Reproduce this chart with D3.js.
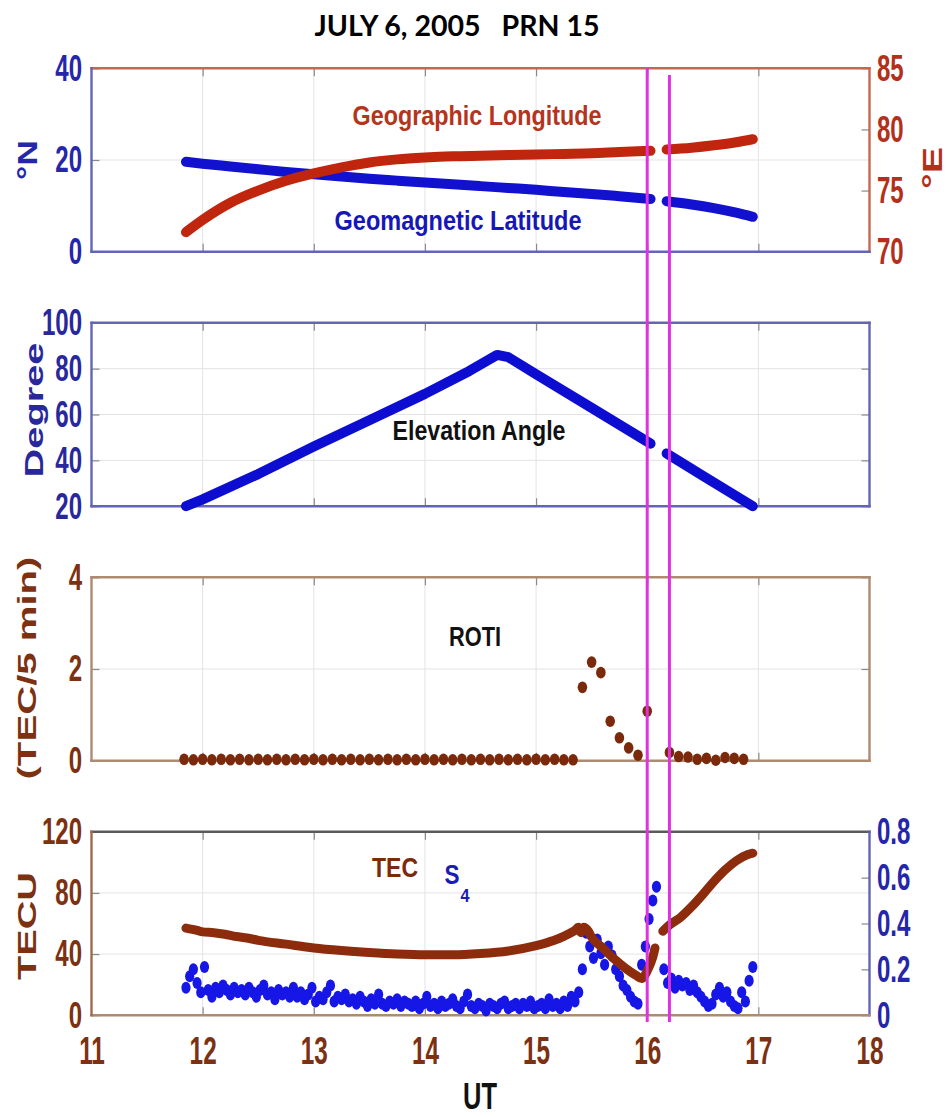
<!DOCTYPE html>
<html>
<head>
<meta charset="utf-8">
<script src="https://cdn.jsdelivr.net/npm/d3@7"></script>
<style>
  html, body { margin: 0; padding: 0; background: #fff; }
  svg { display: block; }
</style>
</head>
<body>
<svg id="chart" width="949" height="1117"></svg>
<script>
// ---------------- data ----------------
const utTicks = [11, 12, 13, 14, 15, 16, 17, 18];
const utGrid = [12, 13, 14, 15, 16, 17];
const eventUT = [16.0, 16.2];

// satellite track (pierce point) : UT hours, null marks the data gap
const trackUT = [11.85, 12.0, 12.25, 12.5, 12.75, 13.0, 13.25, 13.5, 13.75, 14.0, 14.25, 14.5,
                 14.75, 15.0, 15.25, 15.5, 15.75, 16.03, 16.1, 16.175, 16.4, 16.6, 16.8, 16.95];
const geomagLat = [19.6, 19.2, 18.6, 18.0, 17.4, 16.9, 16.4, 15.9, 15.5, 15.1, 14.7, 14.3,
                   13.9, 13.5, 13.0, 12.6, 12.1, 11.5, null, 11.0, 10.3, 9.5, 8.5, 7.6];
const geogLon = [71.6, 72.6, 74.0, 75.0, 75.8, 76.4, 76.9, 77.3, 77.55, 77.7, 77.8, 77.85,
                 77.9, 77.95, 78.0, 78.05, 78.15, 78.25, null, 78.35, 78.5, 78.7, 78.95, 79.2];

const elevUT = [11.85, 12.0, 12.5, 13.0, 13.5, 14.0, 14.4, 14.65, 14.75, 15.0, 15.5, 16.03, 16.1, 16.175, 16.5, 16.95];
const elevDeg = [20, 23, 34, 46, 57.5, 69, 79, 86, 85, 77.6, 62.9, 47.3, null, 43, 33.3, 20];

const rotiUT = [11.833, 11.917, 12.0, 12.083, 12.167, 12.25, 12.333, 12.417, 12.5, 12.583, 12.667,
                12.75, 12.833, 12.917, 13.0, 13.083, 13.167, 13.25, 13.333, 13.417, 13.5, 13.583,
                13.667, 13.75, 13.833, 13.917, 14.0, 14.083, 14.167, 14.25, 14.333, 14.417, 14.5,
                14.583, 14.667, 14.75, 14.833, 14.917, 15.0, 15.083, 15.167, 15.25, 15.333,
                15.417, 15.5, 15.583, 15.667, 15.75, 15.833, 15.917, 16.0,
                16.2, 16.283, 16.367, 16.45, 16.533, 16.617, 16.7, 16.783, 16.867];
const rotiVal = [0.03, 0.02, 0.03, 0.02, 0.03, 0.02, 0.03, 0.02, 0.03, 0.02, 0.03,
                 0.02, 0.03, 0.02, 0.03, 0.02, 0.03, 0.02, 0.03, 0.02, 0.03, 0.02,
                 0.03, 0.02, 0.03, 0.02, 0.03, 0.02, 0.03, 0.02, 0.03, 0.02, 0.03,
                 0.02, 0.03, 0.02, 0.03, 0.02, 0.03, 0.02, 0.03, 0.02, 0.02,
                 1.6, 2.15, 1.92, 0.86, 0.5, 0.28, 0.12, 1.08,
                 0.18, 0.09, 0.08, 0.03, 0.05, 0.01, 0.07, 0.05, 0.03];

const tecUT = [11.85, 11.95, 12.0, 12.1, 12.2, 12.3, 12.4, 12.5, 12.75, 13.0, 13.25, 13.5, 13.75,
               14.0, 14.25, 14.5, 14.75, 15.0, 15.1, 15.2, 15.3, 15.35, 15.38, 15.405, 15.43, 15.47,
               15.5, 15.6, 15.7, 15.8, 15.9, 15.95, 16.0, 16.05, 16.07, 16.1, 16.14, 16.2, 16.3,
               16.4, 16.5, 16.6, 16.7, 16.8, 16.9, 16.95];
const tecVal = [57, 55.5, 54.5, 54, 53, 51.5, 50.5, 49, 46.5, 44, 42.3, 41, 40,
                39.5, 39.5, 40.3, 42, 45.5, 47.5, 50, 53.5, 55.5, 57.5, 54, 57.5, 55,
                51, 44, 37, 31, 26, 24, 29, 38, 44, null, 55, 59, 64,
                71, 79, 87.5, 95, 101, 105, 106];

// S4 index, 2-minute samples starting 11:51 UT
const s4Start = 11.85;
const s4StepMin = 2;
const s4Val = [
  0.12, 0.17, 0.2, 0.14, 0.1, 0.21, 0.11, 0.08, 0.12, 0.1, 0.13, 0.11, 0.09, 0.12, 0.1,
  0.11, 0.09, 0.12, 0.1, 0.08, 0.11, 0.13, 0.09, 0.1, 0.07, 0.11, 0.09, 0.1, 0.08, 0.12,
  0.08, 0.1, 0.07, 0.09, 0.12, 0.06, 0.08, 0.07, 0.1, 0.13, 0.06, 0.08, 0.07, 0.09, 0.06,
  0.07, 0.05, 0.08, 0.06, 0.04, 0.07, 0.05, 0.09, 0.05, 0.04, 0.06, 0.05, 0.07, 0.04, 0.06,
  0.05, 0.04, 0.06, 0.03, 0.05, 0.08, 0.04, 0.05, 0.03, 0.06, 0.04, 0.05, 0.07, 0.04, 0.03,
  0.06, 0.09, 0.04, 0.03, 0.05, 0.04, 0.02, 0.05, 0.04, 0.03, 0.05, 0.06, 0.03, 0.04, 0.05,
  0.03, 0.05, 0.04, 0.06, 0.03, 0.04, 0.05, 0.03, 0.07, 0.04, 0.05, 0.03, 0.06, 0.04, 0.08,
  0.06, 0.1, 0.2, 0.36, 0.3, 0.25, 0.33, 0.27, 0.22, 0.3, 0.26, 0.2, 0.17, 0.13, 0.11,
  0.08, 0.06, 0.05, 0.22, 0.3, 0.42, 0.5, 0.56, null, 0.2, 0.14, 0.16, 0.12, 0.15, 0.13,
  0.14, 0.11, 0.13, 0.1, 0.08, 0.06, 0.04, 0.05, 0.09, 0.12, 0.08, 0.1, 0.06, 0.04, 0.03,
  0.1, 0.06, 0.15, 0.21
];

const latTicks = [0, 20, 40];
const lonTicks = [70, 75, 80, 85];
const elevTicks = [20, 40, 60, 80, 100];
const rotiTicks = [0, 2, 4];
const tecTicks = [0, 40, 80, 120];
const s4Ticks = [0, 0.2, 0.4, 0.6, 0.8];

// ---------------- layout ----------------
const FONT = "'Liberation Sans', Arial, Helvetica, sans-serif";
const svg = d3.select('#chart');
const X0 = 91.5, X1 = 869.5;
const panelTop = [68.3, 322.8, 577.3, 831.8];
const PH = 183.4;
const TICK = 8;
const SX = 0.65; // narrow glyph factor

const x = d3.scaleLinear().domain([11, 18]).range([X0, X1]);

const C = {
  blueFrame: '#6464b4', redFrame: '#c8674f', brownFrame: '#ad8a72', greyFrame: '#5a5a5a',
  blueTxt: '#2626aa', redTxt: '#b3301b', navyTxt: '#28289c', brownTxt: '#7b3112',
  grid: '#e3e3e3'
};

function addText(parent, str, px, py, o) {
  const t = parent.append('text')
    .attr('transform', `translate(${px},${py})` + (o.rotate ? ` rotate(${o.rotate})` : ''))
    .attr('text-anchor', o.anchor || 'middle')
    .attr('font-family', o.family || FONT)
    .attr('font-weight', o.weight || 'bold')
    .attr('font-size', o.size)
    .attr('fill', o.fill || '#000');
  if (o.len) t.attr('textLength', o.len).attr('lengthAdjust', 'spacingAndGlyphs');
  t.text(str);
  return t;
}

function styleTicks(g, color, size) {
  g.select('.domain').remove();
  g.selectAll('.tick line').attr('stroke', '#8a8a8a').attr('stroke-width', 1.2);
  g.selectAll('.tick text')
    .attr('fill', color)
    .attr('font-family', FONT)
    .attr('font-weight', 'bold')
    .attr('font-size', size);
}

function panel(i, cfg) {
  const top = panelTop[i], bot = top + PH;
  const g = svg.append('g');
  const yL = d3.scaleLinear().domain(cfg.left.domain).range([bot, top]);
  const yR = cfg.right ? d3.scaleLinear().domain(cfg.right.domain).range([bot, top]) : yL;

  // grid
  g.append('g').selectAll('line.v').data(utGrid).join('line')
    .attr('x1', d => x(d)).attr('x2', d => x(d)).attr('y1', top).attr('y2', bot)
    .attr('stroke', C.grid).attr('stroke-width', 1);
  g.append('g').selectAll('line.h').data(cfg.gridY).join('line')
    .attr('x1', X0).attr('x2', X1).attr('y1', d => yL(d)).attr('y2', d => yL(d))
    .attr('stroke', C.grid).attr('stroke-width', 1);

  // x ticks (top and bottom, inward)
  const xt = g.append('g').attr('transform', `translate(0,${top})`)
    .call(d3.axisTop(x).tickValues(utGrid).tickSize(-TICK).tickFormat(''));
  styleTicks(xt, '#000', 10);
  const xb = g.append('g').attr('transform', `translate(0,${bot})`)
    .call(d3.axisBottom(x).tickValues(cfg.xLabels ? utTicks : utGrid).tickSize(-TICK)
      .tickPadding(22).tickFormat(cfg.xLabels ? d3.format('d') : ''));
  styleTicks(xb, C.brownTxt, 38);
  if (cfg.xLabels) {
    xb.selectAll('.tick text').attr('transform', `scale(${0.64},1)`);
    xb.selectAll('.tick line').filter(d => d === 11 || d === 18).remove();
  }

  // left axis
  const la = g.append('g').attr('transform', `translate(${X0},0)`)
    .call(d3.axisLeft(yL).tickValues(cfg.left.ticks).tickSize(-TICK).tickPadding(9.5 / SX)
      .tickFormat(cfg.left.fmt || d3.format('d')));
  styleTicks(la, cfg.left.color, 37);
  la.selectAll('.tick text').attr('transform', `scale(${SX},1)`);

  // right axis
  const rTicks = cfg.right ? cfg.right.ticks : cfg.left.ticks;
  const ra = g.append('g').attr('transform', `translate(${X1},0)`)
    .call(d3.axisRight(yR).tickValues(rTicks).tickSize(-TICK).tickPadding(7.5 / SX)
      .tickFormat(cfg.right ? (cfg.right.fmt || d3.format('d')) : ''));
  styleTicks(ra, cfg.right ? cfg.right.color : '#000', 37);
  ra.selectAll('.tick text').attr('transform', `scale(${SX},1)`);

  // frame, each side coloured like its owning axis
  const f = cfg.frame;
  const sides = [
    [X0, top, X1, top, f.top], [X1, top, X1, bot, f.right],
    [X0, bot, X1, bot, f.bottom], [X0, top, X0, bot, f.left]
  ];
  g.append('g').selectAll('line').data(sides).join('line')
    .attr('x1', d => d[0]).attr('y1', d => d[1]).attr('x2', d => d[2]).attr('y2', d => d[3])
    .attr('stroke', d => d[4]).attr('stroke-width', 2.4).attr('stroke-linecap', 'square');

  return { g, yL, yR, top, bot };
}

function pairs(xs, ys) { return xs.map((d, k) => [d, ys[k]]); }

// ---------------- title ----------------
addText(svg, 'JULY 6, 2005   PRN 15', 457, 36, { size: 28, family: "Lato, 'Open Sans', sans-serif", len: 285 })
  .attr('xml:space', 'preserve').style('white-space', 'pre');

// ---------------- panel 1 : latitude / longitude ----------------
const p1 = panel(0, {
  left: { domain: [0, 40], ticks: latTicks, color: C.blueTxt },
  right: { domain: [70, 85], ticks: lonTicks, color: C.redTxt },
  gridY: [20],
  frame: { top: C.redFrame, right: C.redFrame, bottom: C.blueFrame, left: C.blueFrame }
});
const lineL1 = d3.line().defined(d => d[1] != null).x(d => x(d[0])).y(d => p1.yL(d[1])).curve(d3.curveMonotoneX);
const lineR1 = d3.line().defined(d => d[1] != null).x(d => x(d[0])).y(d => p1.yR(d[1])).curve(d3.curveMonotoneX);
p1.g.append('path').attr('d', lineL1(pairs(trackUT, geomagLat)))
  .attr('fill', 'none').attr('stroke', '#1111cf').attr('stroke-width', 10).attr('stroke-linecap', 'round');
p1.g.append('path').attr('d', lineR1(pairs(trackUT, geogLon)))
  .attr('fill', 'none').attr('stroke', '#c0250d').attr('stroke-width', 10).attr('stroke-linecap', 'round');
addText(p1.g, 'Geographic Longitude', 477, 125, { size: 27, len: 249, fill: '#b4341c' });
addText(p1.g, 'Geomagnetic Latitude', 458, 230, { size: 27, len: 247, fill: '#1717b8' });
addText(p1.g, '°N', 27, 160, { size: 28, rotate: -90, fill: C.blueTxt, len: 40 }).attr('dy', '0.35em');
addText(p1.g, '°E', 932, 168, { size: 28, rotate: -90, fill: C.redTxt, len: 42 }).attr('dy', '0.35em');

// ---------------- panel 2 : elevation ----------------
const p2 = panel(1, {
  left: { domain: [20, 100], ticks: elevTicks, color: C.navyTxt },
  gridY: [40, 60, 80],
  frame: { top: C.blueFrame, right: C.blueFrame, bottom: C.blueFrame, left: C.blueFrame }
});
const line2 = d3.line().defined(d => d[1] != null).x(d => x(d[0])).y(d => p2.yL(d[1]));
p2.g.append('path').attr('d', line2(pairs(elevUT, elevDeg)))
  .attr('fill', 'none').attr('stroke', '#0d0dd2').attr('stroke-width', 10)
  .attr('stroke-linecap', 'round').attr('stroke-linejoin', 'round');
addText(p2.g, 'Elevation Angle', 479, 440, { size: 27, len: 173, fill: '#111' });
addText(p2.g, 'Degree', 34, 410, { size: 25, rotate: -90, fill: C.navyTxt, len: 135 }).attr('dy', '0.35em');

// ---------------- panel 3 : ROTI ----------------
const p3 = panel(2, {
  left: { domain: [0, 4], ticks: rotiTicks, color: C.brownTxt },
  gridY: [2],
  frame: { top: C.brownFrame, right: C.brownFrame, bottom: C.brownFrame, left: C.brownFrame }
});
p3.g.append('g').selectAll('ellipse').data(pairs(rotiUT, rotiVal)).join('ellipse')
  .attr('cx', d => x(d[0])).attr('cy', d => p3.yL(d[1])).attr('rx', 4.8).attr('ry', 5.8)
  .attr('fill', '#7a2a0b');
addText(p3.g, 'ROTI', 475, 646, { size: 27, len: 52, fill: '#111' });
addText(p3.g, '(TEC/5 min)', 27, 668, { size: 26, rotate: -90, fill: C.brownTxt, len: 223 }).attr('dy', '0.35em');

// ---------------- panel 4 : TEC and S4 ----------------
const p4 = panel(3, {
  left: { domain: [0, 120], ticks: tecTicks, color: C.brownTxt },
  right: { domain: [0, 0.8], ticks: s4Ticks, color: C.blueTxt, fmt: d => d === 0 ? '0' : d3.format('.1f')(d) },
  gridY: [40, 80],
  xLabels: true,
  frame: { top: C.greyFrame, right: C.blueFrame, bottom: C.brownFrame, left: '#9c6a4e' }
});
const s4Data = s4Val.map((v, k) => [s4Start + k * s4StepMin / 60, v]).filter(d => d[1] != null);
p4.g.append('g').selectAll('ellipse').data(s4Data).join('ellipse')
  .attr('cx', d => x(d[0])).attr('cy', d => p4.yR(d[1])).attr('rx', 4.6).attr('ry', 6)
  .attr('fill', '#1616e6');
const line4 = d3.line().defined(d => d[1] != null).x(d => x(d[0])).y(d => p4.yL(d[1])).curve(d3.curveMonotoneX);
p4.g.append('path').attr('d', line4(pairs(tecUT, tecVal)))
  .attr('fill', 'none').attr('stroke', '#8c2c0d').attr('stroke-width', 9)
  .attr('stroke-linecap', 'round').attr('stroke-linejoin', 'round');
addText(p4.g, 'TEC', 395, 877, { size: 27, len: 46, fill: '#7b2a0c' });
addText(p4.g, 'S', 452, 884, { size: 27, len: 15, fill: '#1a1ab4' });
addText(p4.g, '4', 465, 902, { size: 19, len: 9, fill: '#1a1ab4' });
addText(p4.g, 'TECU', 27, 926, { size: 26, rotate: -90, fill: C.brownTxt, len: 108 }).attr('dy', '0.35em');
addText(svg, 'UT', 480, 1109, { size: 36, len: 34, fill: '#111' });

// ---------------- event markers ----------------
svg.append('g').selectAll('line').data(eventUT).join('line')
  .attr('x1', d => x(d)).attr('x2', d => x(d))
  .attr('y1', (d, k) => k === 0 ? 68 : 75).attr('y2', 1022)
  .attr('stroke', '#e033e0').attr('stroke-width', 3);
</script>
</body>
</html>
